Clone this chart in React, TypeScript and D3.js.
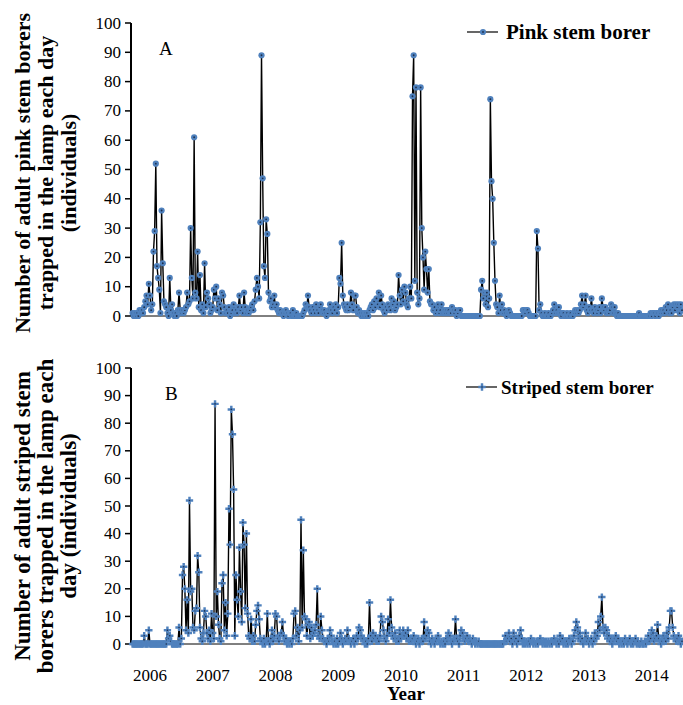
import React from "react";
import * as d3 from "d3";

// light-trap catches, one value per ~week
const yearLabels = [2006, 2007, 2008, 2009, 2010, 2011, 2012, 2013, 2014];
const yTicks = [0, 10, 20, 30, 40, 50, 60, 70, 80, 90, 100];

// pink stem borer (panel A)
const pink2005 = [1, 0, 1, 0, 1, 0, 2, 1, 2, 1, 3, 5, 7, 4, 11];
const pink2006 = [7, 2, 4, 22, 29, 52, 17, 13, 9, 1, 36, 18, 5, 4, 3, 1, 0, 13, 2, 4, 1, 0, 1, 0, 2, 8, 2, 1, 2, 1, 2, 3, 8, 4, 5, 30, 13, 6, 61, 8, 6, 22, 3, 14, 2, 4, 1, 18, 3, 8, 6, 4, 1, 2];
const pink2007 = [3, 9, 6, 10, 2, 6, 4, 1, 8, 7, 3, 1, 2, 1, 3, 0, 1, 2, 4, 1, 2, 1, 3, 7, 2, 3, 1, 8, 3, 1, 2, 1, 2, 3, 4, 2, 5, 9, 13, 10, 6, 32, 89, 47, 17, 13, 33, 28, 8, 5, 6, 3, 4, 7];
const pink2008 = [3, 4, 2, 1, 2, 1, 1, 0, 1, 2, 1, 0, 1, 1, 0, 2, 0, 0, 1, 0, 0, 0, 0, 0, 1, 2, 4, 3, 7, 3, 2, 1, 3, 2, 1, 4, 2, 1, 3, 4, 2, 1, 2, 1, 0, 1, 2, 4, 2, 1, 3, 2, 4, 1];
const pink2009 = [3, 13, 11, 25, 7, 4, 3, 2, 4, 2, 3, 8, 4, 2, 7, 7, 3, 1, 2, 1, 0, 1, 0, 1, 0, 1, 0, 2, 3, 4, 2, 5, 3, 6, 4, 8, 3, 7, 4, 2, 1, 3, 2, 4, 3, 2, 6, 4, 5, 2, 3, 4, 14, 7];
const pink2010 = [4, 9, 5, 10, 8, 4, 3, 6, 10, 6, 75, 89, 12, 78, 8, 4, 6, 78, 30, 20, 9, 22, 16, 8, 16, 5, 4, 4, 2, 3, 1, 2, 4, 1, 2, 4, 1, 2, 1, 2, 1, 2, 1, 1, 3, 2, 1, 2, 0, 1, 2, 2, 0, 0];
const pink2011 = [0, 0, 0, 0, 0, 0, 0, 0, 0, 0, 0, 0, 0, 0, 0, 9, 12, 6, 8, 4, 8, 3, 6, 74, 46, 40, 25, 12, 4, 3, 1, 7, 2, 4, 1, 2, 1, 0, 1, 2, 1, 0, 0, 0, 0, 0, 0, 0, 0, 0, 0, 2, 2, 1];
const pink2012 = [2, 2, 1, 0, 0, 0, 0, 0, 0, 29, 23, 2, 4, 1, 0, 0, 1, 0, 0, 1, 0, 0, 1, 2, 4, 1, 2, 1, 3, 1, 0, 1, 1, 0, 0, 1, 0, 0, 1, 0, 0, 1, 2, 1, 2, 1, 2, 4, 7, 3, 4, 7, 2, 1];
const pink2013 = [3, 2, 6, 2, 1, 3, 2, 1, 2, 3, 1, 6, 3, 2, 3, 1, 2, 1, 2, 4, 3, 1, 3, 1, 0, 1, 0, 0, 0, 0, 0, 0, 0, 0, 0, 0, 0, 0, 0, 0, 0, 0, 0, 1, 0, 0, 0, 0, 0, 0, 0, 0, 0, 1];
const pink2014 = [0, 1, 1, 0, 1, 1, 0, 1, 2, 1, 2, 1, 3, 2, 4, 1, 2, 1, 3, 4, 2, 4, 3, 4, 1, 4, 2];

// striped stem borer (panel B)
const striped2005 = [0, 0, 0, 0, 0, 0, 0, 0, 0, 0, 3, 0, 0, 0, 5];
const striped2006 = [0, 0, 0, 0, 0, 0, 0, 0, 0, 0, 0, 0, 0, 0, 0, 5, 2, 3, 1, 0, 0, 0, 0, 0, 0, 6, 0, 2, 25, 28, 20, 5, 16, 4, 52, 19, 20, 6, 5, 12, 13, 32, 26, 6, 2, 1, 4, 12, 10, 4, 2, 5, 1, 11];
const striped2007 = [4, 2, 87, 10, 19, 7, 2, 1, 22, 25, 5, 15, 3, 11, 49, 36, 85, 76, 56, 3, 25, 16, 10, 35, 19, 8, 44, 36, 13, 40, 11, 3, 2, 9, 1, 3, 1, 7, 12, 14, 9, 2, 1, 0, 2, 0, 1, 11, 1, 0, 2, 5, 1, 3];
const striped2008 = [11, 10, 2, 1, 3, 4, 8, 3, 1, 2, 0, 1, 0, 1, 0, 2, 11, 12, 3, 6, 1, 5, 45, 6, 34, 10, 9, 3, 7, 8, 2, 6, 3, 4, 5, 7, 20, 3, 2, 10, 5, 2, 1, 1, 0, 2, 1, 5, 3, 1, 0, 1, 0, 2];
const striped2009 = [0, 1, 4, 2, 0, 1, 2, 1, 5, 2, 1, 0, 1, 2, 0, 1, 3, 2, 6, 5, 3, 2, 1, 0, 1, 0, 2, 15, 3, 1, 4, 2, 3, 1, 2, 1, 3, 10, 8, 5, 2, 1, 3, 9, 4, 16, 6, 3, 2, 4, 1, 2, 1, 5];
const striped2010 = [2, 3, 5, 3, 4, 2, 5, 1, 2, 1, 2, 3, 1, 0, 1, 2, 0, 1, 2, 1, 8, 2, 3, 5, 4, 1, 0, 2, 1, 0, 1, 2, 3, 1, 0, 1, 0, 1, 0, 2, 1, 4, 3, 1, 0, 1, 2, 9, 2, 1, 0, 3, 5, 4];
const striped2011 = [2, 1, 2, 3, 1, 2, 1, 0, 2, 1, 0, 1, 0, 1, 0, 0, 0, 0, 0, 0, 0, 0, 0, 0, 0, 0, 0, 0, 0, 0, 0, 0, 0, 0, 0, 1, 3, 1, 2, 4, 1, 2, 0, 4, 1, 2, 0, 1, 3, 5, 2, 0, 1, 0];
const striped2012 = [1, 0, 1, 0, 2, 1, 0, 1, 0, 1, 0, 1, 2, 1, 0, 1, 0, 1, 0, 1, 0, 1, 0, 1, 2, 1, 0, 1, 0, 3, 1, 2, 0, 1, 0, 1, 0, 2, 1, 0, 1, 3, 5, 8, 6, 2, 4, 1, 2, 0, 1, 4, 1, 2];
const striped2013 = [0, 1, 2, 0, 1, 4, 2, 3, 8, 5, 10, 17, 6, 4, 6, 5, 2, 3, 1, 2, 0, 1, 2, 3, 1, 2, 0, 1, 0, 1, 0, 2, 1, 0, 1, 2, 0, 1, 0, 1, 2, 0, 1, 0, 0, 1, 0, 0, 1, 0, 1, 3, 1, 2];
const striped2014 = [5, 4, 1, 2, 3, 7, 2, 1, 0, 1, 3, 2, 1, 4, 2, 6, 12, 12, 6, 3, 2, 1, 2, 3, 1, 0, 1];

const pinkBlocks = [pink2005, pink2006, pink2007, pink2008, pink2009, pink2010, pink2011, pink2012, pink2013, pink2014];
const stripedBlocks = [striped2005, striped2006, striped2007, striped2008, striped2009, striped2010, striped2011, striped2012, striped2013, striped2014];

const PER_YEAR = 54;
const START = 2006 - pink2005.length / PER_YEAR;

type Pt = { t: number; v: number };

function toPoints(blocks: number[][]): Pt[] {
  return blocks.flat().map((v, i) => ({ t: START + i / PER_YEAR, v }));
}

const W = 683;
const H = 705;
const AXIS_X = 131;
const BLUE = "#4f81bd";
const FONT = "'Liberation Serif', 'Times New Roman', serif";

const x = d3.scaleLinear().domain([2006, 2014]).range([150, 651.8]);

function Panel({ points, y0, y100, letter, letterPos, legend, legendX, legendY, legendSize, marker, titleLines, titleY, titleSize }: any) {
  const y = d3.scaleLinear().domain([0, 100]).range([y0, y100]);
  const line = d3.line<Pt>().x(d => x(d.t)).y(d => y(d.v));
  const cross = d3.symbol(d3.symbolCross, 30)();

  const drawMarker = (cx: number, cy: number, key: any) =>
    marker === "circle" ? (
      <g key={key}>
        <circle cx={cx} cy={cy} r={3.1} fill={BLUE} />
        <circle cx={cx} cy={cy} r={0.9} fill="#1d2f4d" />
      </g>
    ) : (
      <g key={key} transform={`translate(${cx},${cy})`}>
        <path d={cross!} fill={BLUE} />
        <circle r={0.8} fill="#1d2f4d" />
      </g>
    );

  return (
    <g>
      {titleLines.map((s: string, i: number) => (
        <text key={s} transform={`translate(${22 + i * 23},${titleY}) rotate(-90)`} textAnchor="middle"
          dominantBaseline="central" fontFamily={FONT} fontWeight="bold" fontSize={titleSize}>{s}</text>
      ))}
      <line x1={AXIS_X} x2={AXIS_X} y1={y100} y2={y0} stroke="#000" strokeWidth={2} />
      {yTicks.map(t => (
        <g key={t}>
          <line x1={AXIS_X - 6} x2={AXIS_X} y1={y(t)} y2={y(t)} stroke="#000" strokeWidth={1.5} />
          <text x={AXIS_X - 10} y={y(t)} textAnchor="end" dominantBaseline="central" fontFamily={FONT} fontSize={17}>{t}</text>
        </g>
      ))}
      <line x1={AXIS_X} x2={W} y1={y0} y2={y0} stroke="#000" strokeWidth={1} />
      <path d={line(points)!} fill="none" stroke="#000" strokeWidth={1.4} strokeLinejoin="round" />
      {points.map((p: Pt, i: number) => drawMarker(x(p.t), y(p.v), i))}
      <text x={letterPos[0]} y={letterPos[1]} fontFamily={FONT} fontSize={19}>{letter}</text>
      <line x1={legendX} x2={legendX + 31} y1={legendY} y2={legendY} stroke="#000" strokeWidth={1.2} />
      {drawMarker(legendX + 16, legendY, "lg")}
      <text x={legendX + (marker === "circle" ? 39 : 35)} y={legendY} dominantBaseline="central" fontFamily={FONT}
        fontWeight="bold" fontSize={legendSize}>{legend}</text>
    </g>
  );
}

export default function App() {
  const pink = toPoints(pinkBlocks);
  const striped = toPoints(stripedBlocks);
  return (
    <svg width={W} height={H} style={{ position: "absolute", left: 0, top: 0, background: "#fff" }}>
      <Panel points={pink} y0={316} y100={23} letter="A" letterPos={[159, 55]}
        legend="Pink stem borer" legendX={467} legendY={32} legendSize={21} marker="circle"
        titleLines={["Number of adult pink stem borers", "trapped in the lamp each day", "(individuals)"]} titleY={173} titleSize={22} />
      <Panel points={striped} y0={644} y100={368} letter="B" letterPos={[165, 400]}
        legend="Striped stem borer" legendX={466} legendY={387} legendSize={19} marker="cross"
        titleLines={["Number of adult striped stem", "borers trapped in the lamp each", "day (individuals)"]} titleY={516} titleSize={23} />
      {yearLabels.map(yr => (
        <text key={yr} x={x(yr)} y={681} textAnchor="middle" fontFamily={FONT} fontSize={17}>{yr}</text>
      ))}
      <text x={406} y={700} textAnchor="middle" fontFamily={FONT} fontWeight="bold" fontSize={19}>Year</text>
    </svg>
  );
}
